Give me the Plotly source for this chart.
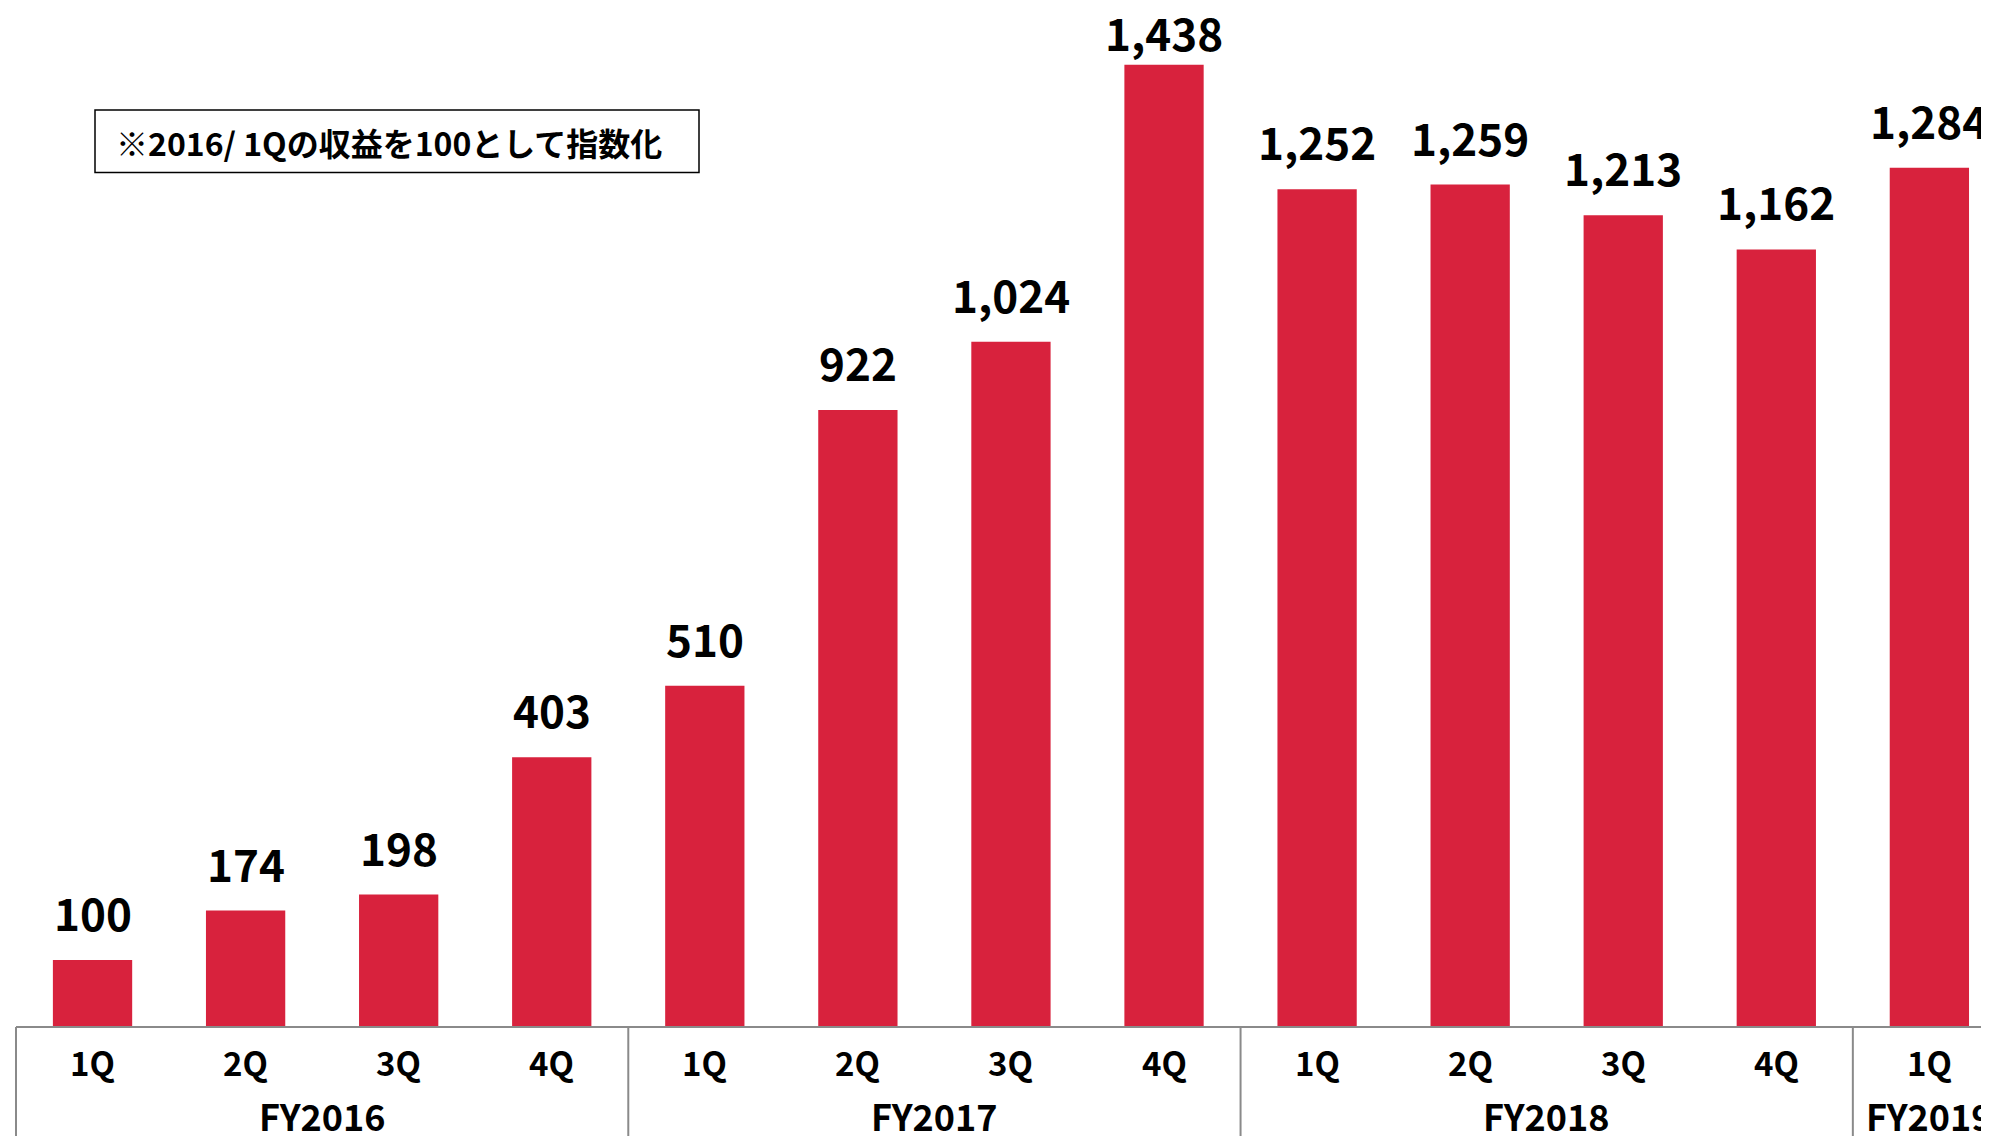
import plotly.graph_objects as go

quarters = ["1Q", "2Q", "3Q", "4Q", "1Q", "2Q", "3Q", "4Q", "1Q", "2Q", "3Q", "4Q", "1Q"]
fiscal_years = ["FY2016", "FY2017", "FY2018", "FY2019"]
year_of_bar = [0, 0, 0, 0, 1, 1, 1, 1, 2, 2, 2, 2, 3]
values = [100, 174, 198, 403, 510, 922, 1024, 1438, 1252, 1259, 1213, 1162, 1284]
note_text = "※2016/ 1Qの収益を100として指数化"

# page geometry (browser body has an 8px default margin)
OFF = 8
PAGE_W, PAGE_H = 1989, 1136
W, H = PAGE_W - OFF, PAGE_H - OFF
PLOT_LEFT_PAGE = 16
PLOT_BOTTOM_PAGE = 1027.5
ML = PLOT_LEFT_PAGE - OFF
MT = 0
MB = H - (PLOT_BOTTOM_PAGE - OFF)
MR = 0
plot_h = H - MT - MB
plot_w = W - ML - MR
PPU = 0.6695            # pixels per unit
YMAX = plot_h / PPU
BAND = 153.07
XMIN = -0.5
XMAX = XMIN + plot_w / BAND

BAR_COLOR = "#D8223D"
LINE_COLOR = "#8A8A8A"
FONT = "Noto Sans CJK JP"

x_idx = list(range(len(values)))

fig = go.Figure(go.Bar(
    x=x_idx, y=values, width=0.518,
    marker=dict(color=BAR_COLOR, line=dict(width=0)),
    hoverinfo="skip",
))


def paper_y(page_px):
    return (PLOT_BOTTOM_PAGE - page_px) / plot_h


def paper_x_page(page_px):
    return (page_px - PLOT_LEFT_PAGE) / plot_w


def paper_x(idx):
    return (idx - XMIN) / (XMAX - XMIN)


annotations = []
for i, v in zip(x_idx, values):
    top_page = PLOT_BOTTOM_PAGE - v * PPU
    gap = min(14, top_page - 66)
    annotations.append(dict(
        x=i, y=v, xref="x", yref="y", text=f"{v:,}", showarrow=False,
        yanchor="bottom", yshift=gap,
        font=dict(family=FONT, size=44, color="#000000", weight="bold"),
    ))

for i, q in zip(x_idx, quarters):
    annotations.append(dict(
        x=i, y=paper_y(1063), xref="x", yref="paper", text=q, showarrow=False,
        yanchor="middle", font=dict(family=FONT, size=33, color="#000000", weight="bold"),
    ))

for g, fy in enumerate(fiscal_years):
    members = [i for i, yb in zip(x_idx, year_of_bar) if yb == g]
    cx = sum(members) / len(members)
    annotations.append(dict(
        x=cx, y=paper_y(1116), xref="x", yref="paper", text=fy, showarrow=False,
        yanchor="middle", font=dict(family=FONT, size=36, color="#000000", weight="bold"),
    ))

# note box
annotations.append(dict(
    x=paper_x_page(389), y=paper_y(142), xref="paper", yref="paper",
    text=note_text, showarrow=False, xanchor="center", yanchor="middle",
    font=dict(family=FONT, size=32, color="#000000", weight="bold"),
))

shapes = [
    dict(type="line", xref="paper", yref="paper", x0=0, x1=1,
         y0=0, y1=0, line=dict(color=LINE_COLOR, width=2)),
    dict(type="rect", xref="paper", yref="paper",
         x0=paper_x_page(95), x1=paper_x_page(699),
         y0=paper_y(110), y1=paper_y(172.5),
         line=dict(color="#000000", width=1.5), fillcolor="rgba(0,0,0,0)"),
]
bounds = [XMIN]
for k in range(1, len(year_of_bar)):
    if year_of_bar[k] != year_of_bar[k - 1]:
        bounds.append(k - 0.5)
for b in bounds:
    shapes.append(dict(type="line", xref="paper", yref="paper",
                       x0=paper_x(b), x1=paper_x(b), y0=0, y1=paper_y(PAGE_H + 10),
                       line=dict(color=LINE_COLOR, width=2)))

fig.update_layout(
    width=W, height=H,
    margin=dict(l=ML, r=MR, t=MT, b=MB, pad=0),
    plot_bgcolor="white", paper_bgcolor="white",
    showlegend=False,
    xaxis=dict(range=[XMIN, XMAX], showticklabels=False, showgrid=False,
               zeroline=False, showline=False, ticks=""),
    yaxis=dict(range=[0, YMAX], visible=False, showgrid=False, zeroline=False),
    annotations=annotations,
    shapes=shapes,
    font=dict(family=FONT),
)

fig.write_html("out.html")
